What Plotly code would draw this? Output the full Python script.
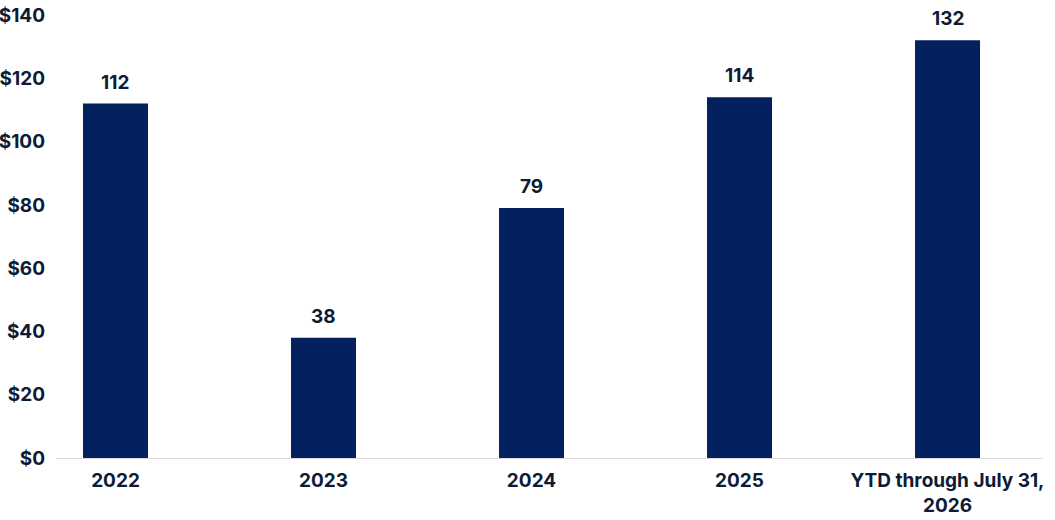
import plotly.graph_objects as go

categories = ["2022", "2023", "2024", "2025", "YTD through July 31,<br>2026"]
values = [112, 38, 79, 114, 132]
y_ticks = [0, 20, 40, 60, 80, 100, 120, 140]

NAVY = "#03215e"
TEXT = "#0d1b36"
FONT = "Inter"
SIZE = 19

fig = go.Figure()
fig.add_trace(go.Bar(
    x=categories,
    y=values,
    marker=dict(color=NAVY, line=dict(width=0)),
    width=0.3125,
    hoverinfo="skip",
))

# value labels above the bars (x by index: the year strings would read as numbers)
for i, v in enumerate(values):
    fig.add_annotation(
        x=i, y=v, text=str(v), showarrow=False,
        yanchor="bottom", yshift=8,
        font=dict(family=FONT, size=SIZE, color=TEXT, weight="bold"),
    )

fig.update_layout(
    width=1055,
    height=520,
    margin=dict(l=56, r=12, t=15, b=62),
    plot_bgcolor="white",
    paper_bgcolor="white",
    showlegend=False,
    font=dict(family=FONT, size=SIZE, color=TEXT, weight="bold"),
)
fig.update_xaxes(
    type="category",
    range=[-0.286, 4.459],
    automargin=False,
    showline=True, linecolor="#d9d9d9", linewidth=1,
    showgrid=False, ticks="",
    ticklabelstandoff=5,
    tickfont=dict(family=FONT, size=SIZE, color=TEXT, weight="bold"),
)
fig.update_yaxes(
    range=[0, 140],
    tickvals=y_ticks,
    ticktext=["$" + str(t) for t in y_ticks],
    automargin=False,
    showgrid=False, zeroline=False, showline=False, ticks="",
    ticklabelstandoff=10,
    tickfont=dict(family=FONT, size=SIZE, color=TEXT, weight="bold"),
)

# drop the default 8px body margin so the chart sits at the window's corner
fig.write_html(
    "out.html",
    config={"displayModeBar": False},
    post_script="document.body.style.margin = '0';",
)
